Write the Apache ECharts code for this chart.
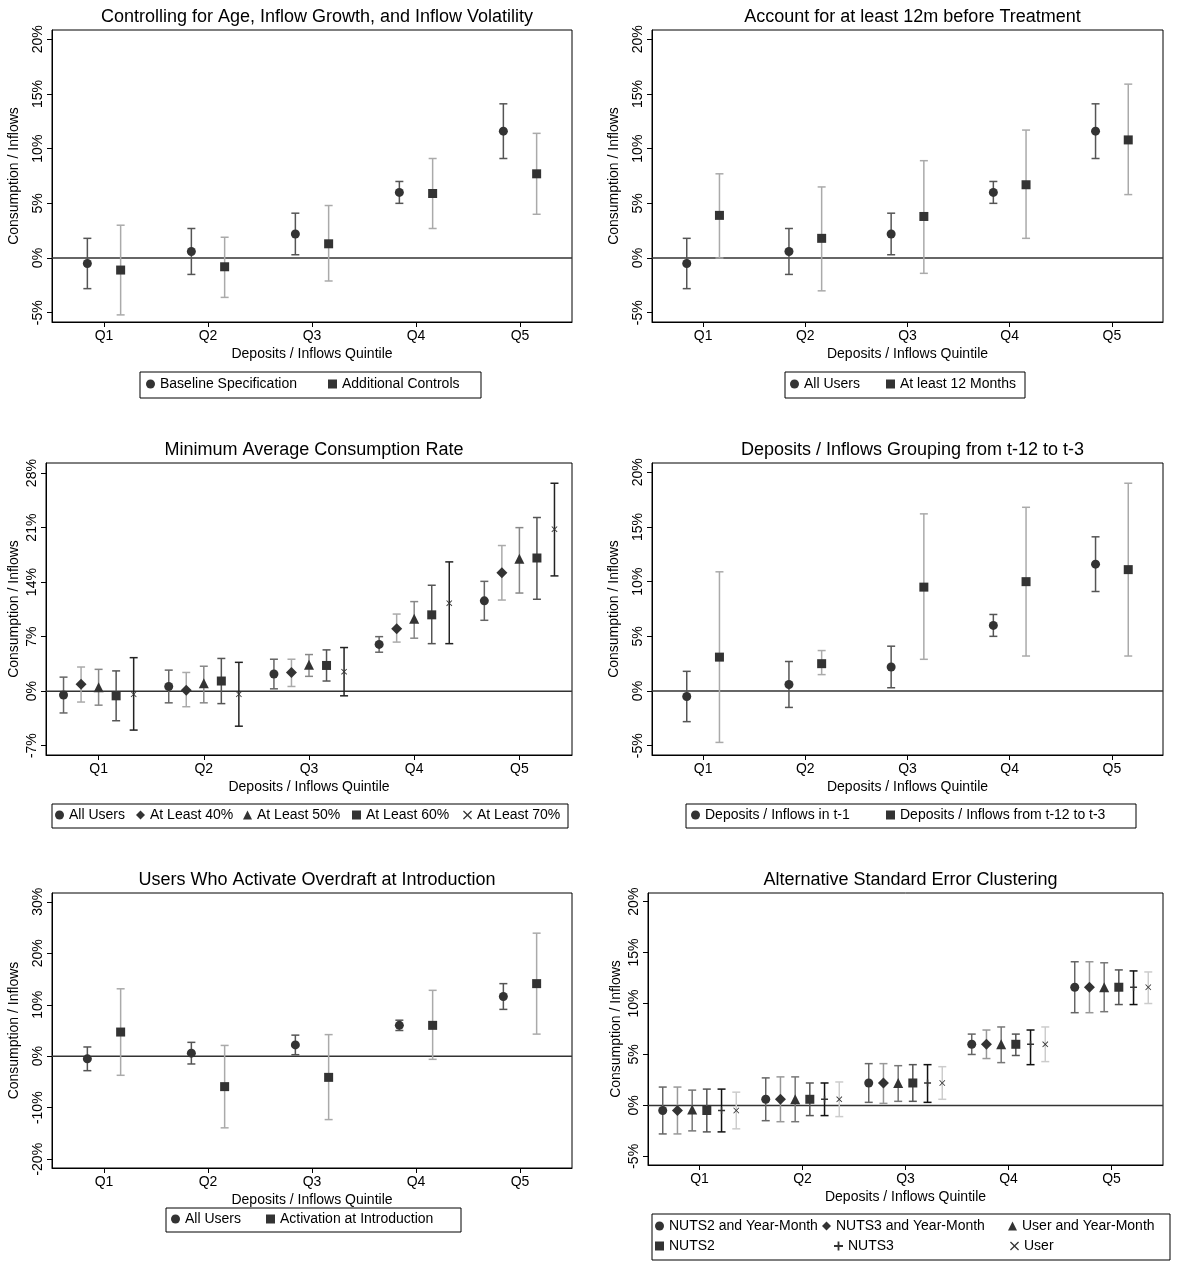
<!DOCTYPE html>
<html>
<head>
<meta charset="utf-8">
<script src="https://cdn.jsdelivr.net/npm/echarts@6/dist/echarts.min.js"></script>
</head>
<body style="margin:0;background:#fff">
<div id="main" style="width:1177px;height:1262px;"></div>
<script>
// quintile labels
const quintiles = ['Q1', 'Q2', 'Q3', 'Q4', 'Q5'];

// baseline estimates (all users), reused in several panels
const baseEst = [-0.5, 0.6, 2.2, 6.0, 11.6];
const baseLo = [-2.8, -1.5, 0.3, 5.0, 9.1];
const baseHi = [1.8, 2.7, 4.1, 7.0, 14.1];

// panel 1: additional controls
const ctrlEst = [-1.1, -0.8, 1.3, 5.9, 7.7];
const ctrlLo = [-5.2, -3.6, -2.1, 2.7, 4.0];
const ctrlHi = [3.0, 1.9, 4.8, 9.1, 11.4];

// panel 2: at least 12 months
const m12Est = [3.9, 1.8, 3.8, 6.7, 10.8];
const m12Lo = [0.0, -3.0, -1.4, 1.8, 5.8];
const m12Hi = [7.7, 6.5, 8.9, 11.7, 15.9];

// panel 3: minimum average consumption rate
const p40Est = [0.9, 0.1, 2.4, 8.0, 15.2];
const p40Lo = [-1.4, -2.0, 0.6, 6.3, 11.7];
const p40Hi = [3.1, 2.4, 4.1, 9.9, 18.7];
const p50Est = [0.5, 1.0, 3.4, 9.3, 17.0];
const p50Lo = [-1.8, -1.5, 1.9, 6.8, 12.6];
const p50Hi = [2.8, 3.2, 4.7, 11.5, 21.0];
const p60Est = [-0.6, 1.3, 3.3, 9.8, 17.1];
const p60Lo = [-3.8, -1.6, 1.3, 6.1, 11.8];
const p60Hi = [2.6, 4.2, 5.3, 13.6, 22.3];
const p70Est = [-0.4, -0.4, 2.5, 11.3, 20.8];
const p70Lo = [-5.0, -4.5, -0.6, 6.1, 14.8];
const p70Hi = [4.3, 3.7, 5.6, 16.6, 26.7];

// panel 4: grouping from t-12 to t-3
const lagEst = [3.1, 2.5, 9.5, 10.0, 11.1];
const lagLo = [-4.7, 1.5, 2.9, 3.2, 3.2];
const lagHi = [10.9, 3.7, 16.2, 16.8, 19.0];

// panel 5: activation at introduction
const actEst = [4.7, -5.9, -4.1, 6.0, 14.1];
const actLo = [-3.7, -13.9, -12.3, -0.6, 4.3];
const actHi = [13.1, 2.1, 4.2, 12.8, 23.9];

// panel 6: alternative clustering
const n3ymLo = [-2.8, -1.6, 0.2, 4.6, 9.1];
const n3ymHi = [1.8, 2.8, 4.1, 7.4, 14.1];
const uymEst = [-0.4, 0.6, 2.2, 6.0, 11.6];
const uymLo = [-2.5, -1.6, 0.4, 4.2, 9.2];
const uymHi = [1.5, 2.8, 3.9, 7.7, 14.0];
const n2Lo = [-2.6, -1.0, 0.4, 4.9, 9.9];
const n2Hi = [1.6, 2.2, 4.0, 7.0, 13.3];
const n3Lo = [-2.6, -1.0, 0.3, 4.0, 9.9];
const n3Hi = [1.6, 2.2, 4.0, 7.4, 13.2];
const usrLo = [-2.3, -1.1, 0.6, 4.3, 10.0];
const usrHi = [1.3, 2.3, 3.8, 7.7, 13.1];

const FONT = 'Liberation Sans';
const PLUS = 'path://M4,0H6V4H10V6H6V10H4V6H0V4H4Z';
const CROSS = 'path://M1,0L5,4L9,0L10,1L6,5L10,9L9,10L5,6L1,10L0,9L4,5L0,1Z';
const MK = '#333';

const panels = [
  {title: 'Controlling for Age, Inflow Growth, and Inflow Volatility',
   frame: [52, 30, 572, 322], yr: [-5.85, 20.85], ticks: [-5, 0, 5, 10, 15, 20],
   legend: {box: [140, 372, 481, 398], rows: [[146, 385, 'Baseline Specification'], [328, 385, 'Additional Controls']]},
   series: [
     {name: 'Baseline Specification', sym: 'circle', size: 9, bar: '#555', off: -0.16, e: baseEst, lo: baseLo, hi: baseHi},
     {name: 'Additional Controls', sym: 'rect', size: 9, bar: '#aaa', off: 0.16, e: ctrlEst, lo: ctrlLo, hi: ctrlHi}]},
  {title: 'Account for at least 12m before Treatment',
   frame: [652, 30, 1163, 322], yr: [-5.85, 20.85], ticks: [-5, 0, 5, 10, 15, 20],
   legend: {box: [785, 372, 1025, 398], rows: [[790, 385, 'All Users'], [886, 385, 'At least 12 Months']]},
   series: [
     {name: 'All Users', sym: 'circle', size: 9, bar: '#555', off: -0.16, e: baseEst, lo: baseLo, hi: baseHi},
     {name: 'At least 12 Months', sym: 'rect', size: 9, bar: '#aaa', off: 0.16, e: m12Est, lo: m12Lo, hi: m12Hi}]},
  {title: 'Minimum Average Consumption Rate',
   frame: [46, 463, 572, 755], yr: [-8.2, 29.3], ticks: [-7, 0, 7, 14, 21, 28],
   legend: {box: [52, 804, 568, 828], rows: [[55, 816, 'All Users'], [136, 816, 'At Least 40%'], [243, 816, 'At Least 50%'], [352, 816, 'At Least 60%'], [463, 816, 'At Least 70%']]},
   series: [
     {name: 'All Users', sym: 'circle', size: 9, bar: '#666', off: -1 / 3, e: baseEst, lo: baseLo, hi: baseHi},
     {name: 'At Least 40%', sym: 'diamond', size: 11, bar: '#aaa', off: -1 / 6, e: p40Est, lo: p40Lo, hi: p40Hi},
     {name: 'At Least 50%', sym: 'triangle', size: 10, bar: '#888', off: 0, e: p50Est, lo: p50Lo, hi: p50Hi},
     {name: 'At Least 60%', sym: 'rect', size: 9, bar: '#555', off: 1 / 6, e: p60Est, lo: p60Lo, hi: p60Hi},
     {name: 'At Least 70%', sym: CROSS, size: 6, bar: '#222', off: 1 / 3, e: p70Est, lo: p70Lo, hi: p70Hi}]},
  {title: 'Deposits / Inflows Grouping from t-12 to t-3',
   frame: [652, 463, 1163, 755], yr: [-5.85, 20.85], ticks: [-5, 0, 5, 10, 15, 20],
   legend: {box: [686, 804, 1136, 828], rows: [[691, 816, 'Deposits / Inflows in t-1'], [886, 816, 'Deposits / Inflows from t-12 to t-3']]},
   series: [
     {name: 'Deposits / Inflows in t-1', sym: 'circle', size: 9, bar: '#555', off: -0.16, e: baseEst, lo: baseLo, hi: baseHi},
     {name: 'Deposits / Inflows from t-12 to t-3', sym: 'rect', size: 9, bar: '#aaa', off: 0.16, e: lagEst, lo: lagLo, hi: lagHi}]},
  {title: 'Users Who Activate Overdraft at Introduction',
   frame: [52, 893, 572, 1168], yr: [-21.7, 31.7], ticks: [-20, -10, 0, 10, 20, 30],
   legend: {box: [166, 1208, 461, 1232], rows: [[171, 1220, 'All Users'], [266, 1220, 'Activation at Introduction']]},
   series: [
     {name: 'All Users', sym: 'circle', size: 9, bar: '#555', off: -0.16, e: baseEst, lo: baseLo, hi: baseHi},
     {name: 'Activation at Introduction', sym: 'rect', size: 9, bar: '#aaa', off: 0.16, e: actEst, lo: actLo, hi: actHi}]},
  {title: 'Alternative Standard Error Clustering',
   frame: [648, 893, 1163, 1165], yr: [-5.85, 20.85], ticks: [-5, 0, 5, 10, 15, 20],
   legend: {box: [652, 1214, 1170, 1260], rows: [[655, 1227, 'NUTS2 and Year-Month'], [822, 1227, 'NUTS3 and Year-Month'], [1008, 1227, 'User and Year-Month'], [655, 1247, 'NUTS2'], [834, 1247, 'NUTS3'], [1010, 1247, 'User']]},
   series: [
     {name: 'NUTS2 and Year-Month', sym: 'circle', size: 9, bar: '#666', off: -0.357, e: baseEst, lo: baseLo, hi: baseHi},
     {name: 'NUTS3 and Year-Month', sym: 'diamond', size: 11, bar: '#999', off: -0.214, e: baseEst, lo: n3ymLo, hi: n3ymHi},
     {name: 'User and Year-Month', sym: 'triangle', size: 10, bar: '#777', off: -0.071, e: uymEst, lo: uymLo, hi: uymHi},
     {name: 'NUTS2', sym: 'rect', size: 9, bar: '#555', off: 0.071, e: baseEst, lo: n2Lo, hi: n2Hi},
     {name: 'NUTS3', sym: PLUS, size: 7, bar: '#111', off: 0.214, e: baseEst, lo: n3Lo, hi: n3Hi},
     {name: 'User', sym: CROSS, size: 6, bar: '#ccc', off: 0.357, e: baseEst, lo: usrLo, hi: usrHi}]}
];

const grid = [], xAxis = [], yAxis = [], series = [], title = [], legend = [], graphic = [];
const txt = {fontFamily: FONT, color: '#000'};

function makeErrBar(color) {
  return function (params, api) {
    const a = api.coord([api.value(0), api.value(1)]);
    const b = api.coord([api.value(0), api.value(2)]);
    const st = {stroke: color, lineWidth: 1.5, fill: null};
    return {type: 'group', children: [
      {type: 'line', shape: {x1: a[0], y1: a[1], x2: b[0], y2: b[1]}, style: st},
      {type: 'line', shape: {x1: a[0] - 4, y1: a[1], x2: a[0] + 4, y2: a[1]}, style: st},
      {type: 'line', shape: {x1: b[0] - 4, y1: b[1], x2: b[0] + 4, y2: b[1]}, style: st}
    ]};
  };
}

panels.forEach((p, i) => {
  const [l, t, r, b] = p.frame;
  grid.push({left: l, top: t, width: r - l, height: b - t, show: true, borderColor: '#000', borderWidth: 1, backgroundColor: '#fff'});
  title.push({text: p.title, left: (l + r) / 2, top: t - 27, textAlign: 'center',
    textStyle: Object.assign({fontSize: 18, fontWeight: 'normal'}, txt)});
  xAxis.push({type: 'value', gridIndex: i, min: 0.5, max: 5.5, position: 'bottom',
    name: 'Deposits / Inflows Quintile', nameLocation: 'middle', nameGap: 25,
    nameTextStyle: Object.assign({fontSize: 14}, txt),
    axisLine: {show: true, onZero: false, lineStyle: {color: '#000', width: 1}}, splitLine: {show: false},
    axisTick: {show: true, inside: false, length: 5, lineStyle: {color: '#000'}, customValues: [1, 2, 3, 4, 5]},
    axisLabel: Object.assign({fontSize: 14, margin: 7, customValues: [1, 2, 3, 4, 5],
      formatter: v => quintiles[Math.round(v) - 1]}, txt)});
  yAxis.push({type: 'value', gridIndex: i, min: p.yr[0], max: p.yr[1], position: 'left',
    name: 'Consumption / Inflows', nameLocation: 'middle', nameGap: (i === 2 || i === 5) ? 25 : 31,
    nameTextStyle: Object.assign({fontSize: 14}, txt),
    axisLine: {show: true, onZero: false, lineStyle: {color: '#000', width: 1}}, splitLine: {show: false},
    axisTick: {show: true, inside: false, length: 5, lineStyle: {color: '#000'}, customValues: p.ticks},
    axisLabel: Object.assign({fontSize: 14, rotate: 90, margin: 7, customValues: p.ticks,
      formatter: v => v + '%'}, txt)});
  series.push({type: 'line', xAxisIndex: i, yAxisIndex: i, data: [[0.5, 0], [5.5, 0]],
    symbol: 'none', silent: true, lineStyle: {color: '#333', width: 1.5}, z: 1});
  p.series.forEach(s => {
    series.push({type: 'custom', xAxisIndex: i, yAxisIndex: i, renderItem: makeErrBar(s.bar),
      silent: true, z: 2, clip: false,
      data: s.e.map((_, k) => [k + 1 + s.off, s.lo[k], s.hi[k]])});
    series.push({type: 'scatter', name: s.name, xAxisIndex: i, yAxisIndex: i,
      symbol: s.sym, symbolSize: s.size, itemStyle: {color: MK, opacity: 1}, z: 3,
      data: s.e.map((v, k) => [k + 1 + s.off, v])});
  });
  const lb = p.legend.box;
  graphic.push({type: 'rect', shape: {x: lb[0], y: lb[1], width: lb[2] - lb[0], height: lb[3] - lb[1]},
    style: {fill: 'none', stroke: '#000', lineWidth: 1}});
  p.legend.rows.forEach(row => {
    legend.push({data: [row[2]], left: row[0], top: row[1] - 8, itemWidth: 9, itemHeight: 9, itemGap: 4,
      selectedMode: false, padding: 0, textStyle: Object.assign({fontSize: 14}, txt)});
  });
});

const chart = echarts.init(document.getElementById('main'));
chart.setOption({animation: false, backgroundColor: '#fff', title, grid, xAxis, yAxis, series, legend, graphic});
</script>
</body>
</html>
